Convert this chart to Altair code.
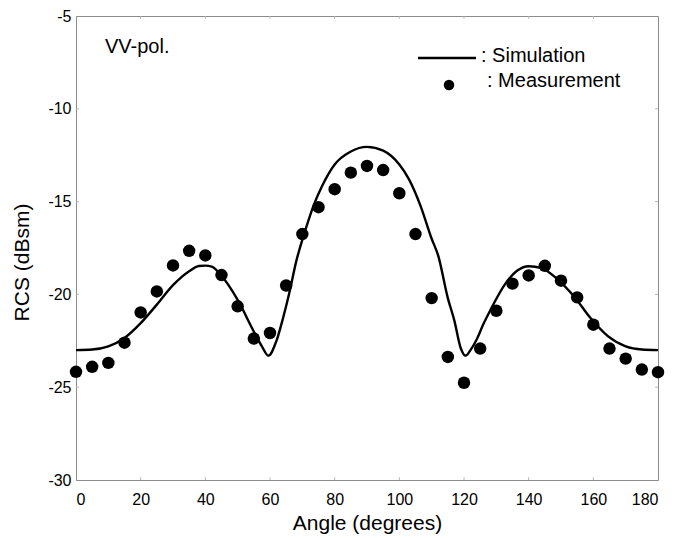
import altair as alt
import pandas as pd

FONT = "Liberation Sans"

# Simulation curve
sim_angle = [0, 5, 10, 15, 20, 25, 30, 35, 38, 40, 42, 45, 50, 55, 57.5, 59.5,
             62, 64, 66, 68, 71, 73.5, 76, 80, 85, 90, 95, 100, 103, 106.5,
             110, 112, 115, 117, 119, 120.5, 122, 124, 126, 128.3, 132.5,
             136.6, 140, 144, 149, 154, 159, 164.5, 170, 175, 180]
sim_rcs = [-23.0, -22.97, -22.8, -22.35, -21.55, -20.55, -19.5, -18.75, -18.47,
           -18.45, -18.5, -19.0, -20.3, -22.0, -22.8, -23.3,
           -22.5, -21.3, -19.9, -18.3, -16.5, -15.2, -14.2, -13.0, -12.3,
           -12.05, -12.25, -13.0, -13.8, -15.2,
           -17.0, -17.9, -20.2, -21.4, -22.9, -23.3, -23.0, -22.4, -21.6,
           -20.8, -19.5, -18.7, -18.48, -18.58, -19.2, -20.1, -21.25,
           -22.25, -22.8, -22.97, -23.0]

# Measurement points
meas_angle = [0, 5, 10, 15, 20, 25, 30, 35, 40, 45, 50, 55, 60, 65, 70, 75, 80,
              85, 90, 95, 100, 105, 110, 115, 120, 125, 130, 135, 140, 145,
              150, 155, 160, 165, 170, 175, 180]
meas_rcs = [-24.17, -23.9, -23.69, -22.6, -20.97, -19.84, -18.44, -17.65, -17.9,
            -18.96, -20.64, -22.38, -22.08, -19.52, -16.75, -15.3, -14.33,
            -13.44, -13.08, -13.3, -14.55, -16.75, -20.2, -23.37, -24.76,
            -22.92, -20.88, -19.42, -18.98, -18.46, -19.26, -20.16, -21.63,
            -22.92, -23.46, -24.05, -24.19]

x_ticks = [0, 20, 40, 60, 80, 100, 120, 140, 160, 180]
y_ticks = [-30, -25, -20, -15, -10, -5]
x_inner = [20, 40, 60, 80, 100, 120, 140, 160]
y_inner = [-25, -20, -15, -10]

sim = pd.DataFrame({"angle": sim_angle, "rcs": sim_rcs})
meas = pd.DataFrame({"angle": meas_angle, "rcs": meas_rcs})
xin = pd.DataFrame({"v": x_inner})
yin = pd.DataFrame({"v": y_inner})

xs = alt.Scale(domain=[0, 180], nice=False, zero=False)
ys = alt.Scale(domain=[-30, -5], nice=False, zero=False)

hyphen = "datum.value < 0 ? '-' + abs(datum.value) : '' + datum.value"

x_axis = alt.Axis(title="Angle (degrees)", values=x_ticks, grid=False, domain=False,
                  ticks=False, tickSize=0, labelPadding=11, labelFontSize=16,
                  labelFont=FONT, labelColor="black", titleFont=FONT,
                  titleFontSize=21, titleFontWeight="normal", titleColor="black",
                  titleY=49, titleBaseline="alphabetic")
y_axis = alt.Axis(title="RCS (dBsm)", values=y_ticks, grid=False, domain=False,
                  ticks=False, tickSize=0, labelPadding=5, labelFontSize=16,
                  labelFont=FONT, labelColor="black", titleFont=FONT,
                  titleFontSize=21, titleFontWeight="normal", titleColor="black",
                  titleAngle=-90, titleX=-54, titleY=246, titleAlign="center",
                  titleBaseline="middle", labelExpr=hyphen)

line = alt.Chart(sim).mark_line(color="black", strokeWidth=2.4, interpolate="monotone").encode(
    x=alt.X("angle:Q", scale=xs, axis=x_axis),
    y=alt.Y("rcs:Q", scale=ys, axis=y_axis),
)
pts = alt.Chart(meas).mark_circle(size=155, color="black", opacity=1).encode(
    x=alt.X("angle:Q", scale=xs),
    y=alt.Y("rcs:Q", scale=ys),
)

tick_color = "#b5b5b5"
t_bottom = alt.Chart(xin).mark_rule(color=tick_color, strokeWidth=1).encode(
    x=alt.X("v:Q", scale=xs), y=alt.datum(-30), y2=alt.datum(-29.85))
t_top = alt.Chart(xin).mark_rule(color=tick_color, strokeWidth=1).encode(
    x=alt.X("v:Q", scale=xs), y=alt.datum(-5), y2=alt.datum(-5.15))
t_left = alt.Chart(yin).mark_rule(color=tick_color, strokeWidth=1).encode(
    y=alt.Y("v:Q", scale=ys), x=alt.datum(0), x2=alt.datum(0.9))
t_right = alt.Chart(yin).mark_rule(color=tick_color, strokeWidth=1).encode(
    y=alt.Y("v:Q", scale=ys), x=alt.datum(180), x2=alt.datum(179.1))

dummy = pd.DataFrame({"a": [0]})
leg_line = alt.Chart(dummy).mark_rule(color="black", strokeWidth=2.4).encode(
    x=alt.value(342), x2=alt.value(400), y=alt.value(42))
leg_dot = alt.Chart(dummy).mark_circle(size=110, color="black", opacity=1).encode(
    x=alt.value(373), y=alt.value(69))
txt_sim = alt.Chart(dummy).mark_text(text=": Simulation", align="left", baseline="alphabetic",
                                     fontSize=20, font=FONT, color="black").encode(
    x=alt.value(405), y=alt.value(46))
txt_meas = alt.Chart(dummy).mark_text(text=": Measurement", align="left", baseline="alphabetic",
                                      fontSize=20, font=FONT, color="black").encode(
    x=alt.value(411), y=alt.value(71))
txt_pol = alt.Chart(dummy).mark_text(text="VV-pol.", align="left", baseline="alphabetic",
                                     fontSize=20, font=FONT, color="black").encode(
    x=alt.value(29), y=alt.value(37))

chart = alt.layer(t_bottom, t_top, t_left, t_right, line, pts,
                  leg_line, leg_dot, txt_sim, txt_meas, txt_pol).properties(
    width=582, height=464,
    autosize=alt.AutoSizeParams(type="none"),
    padding={"left": 68, "top": 8, "right": 10, "bottom": 56},
    background="white",
).configure_view(stroke="#8c8c8c", strokeWidth=1)

chart.save("out.html", embed_options={"renderer": "svg", "actions": False})
